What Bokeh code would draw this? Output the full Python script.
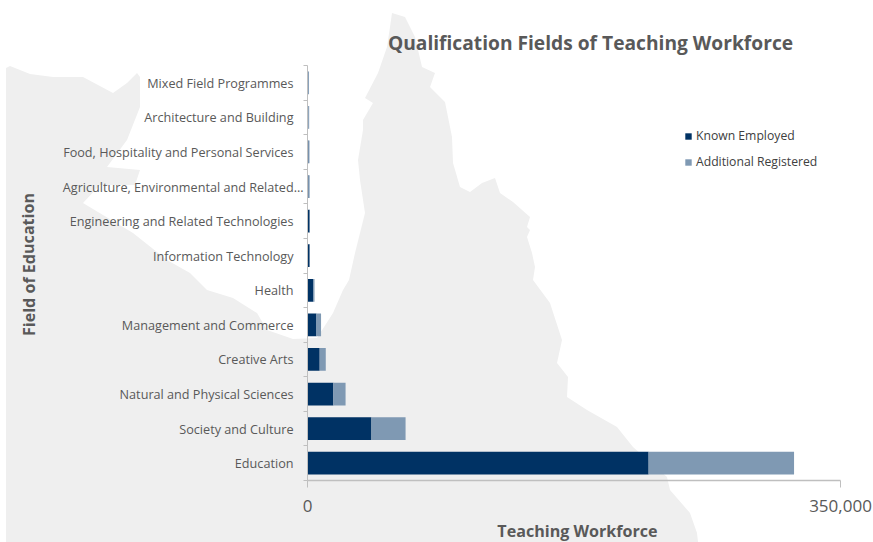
from urllib.parse import quote
from bokeh.plotting import figure
from bokeh.models import (Range1d, FixedTicker, Label, Legend, LegendItem, LinearAxis)
from bokeh.embed import file_html
from bokeh.resources import INLINE

categories = ["Education", "Society and Culture", "Natural and Physical Sciences", "Creative Arts",
              "Management and Commerce", "Health", "Information Technology",
              "Engineering and Related Technologies", "Agriculture, Environmental and Related…",
              "Food, Hospitality and Personal Services", "Architecture and Building", "Mixed Field Programmes"]
known_employed = [224000, 42000, 17000, 8000, 5900, 3900, 1400, 1400, 700, 700, 500, 400]
additional_registered = [95500, 22400, 8000, 4000, 3000, 700, 200, 200, 700, 600, 600, 600]
x_ticks = [0, 350000]
x_tick_labels = ["0", "350,000"]

# decorative backdrop: silhouette of the Queensland coast, in page pixels
map_x = [6, 10, 30, 53, 83, 113, 127, 137, 140, 140, 127, 107, 140, 135, 100, 83, 133, 167, 190, 207, 233, 257, 267,
         293, 317, 333, 343, 349, 355, 365, 360, 358, 363, 363, 373, 365, 378, 387, 390, 392, 405, 415, 422, 435, 430,
         445, 448, 452, 453, 460, 470, 482, 495, 500, 513, 530, 527, 530, 527, 532, 535, 533, 550, 562, 557, 568, 567,
         587, 617, 633, 667, 670, 690, 697, 698, 6]
map_y = [68, 66, 74, 77, 77, 93, 83, 73, 77, 107, 140, 167, 170, 185, 185, 203, 233, 260, 273, 290, 298, 313, 330,
         339, 338, 313, 290, 280, 253, 213, 180, 160, 130, 120, 103, 98, 73, 47, 27, 13, 17, 37, 67, 73, 87,
         102, 117, 137, 163, 187, 192, 183, 178, 193, 202, 217, 227, 230, 237, 253, 267, 280, 303, 340, 363, 377, 397,
         410, 427, 447, 477, 490, 513, 533, 542, 542]

W, H = 873, 542
DARK, LIGHT = "#003264", "#7F99B3"
GREY_TEXT = "#595959"
FONT = "Open Sans"

points = " ".join(f"{x},{y}" for x, y in zip(map_x, map_y))
backdrop = (f'<svg xmlns="http://www.w3.org/2000/svg" width="{W}" height="{H}">'
            f'<polygon points="{points}" fill="#EFEFEF"/></svg>')

n = len(categories)
p = figure(width=W, height=H, output_backend="svg", toolbar_location=None,
           x_range=Range1d(0, 350000), y_range=Range1d(0, n),
           x_axis_type=None, y_axis_type=None,
           min_border_left=307, min_border_right=33, min_border_top=65, min_border_bottom=62,
           styles={"background-image": f'url("data:image/svg+xml,{quote(backdrop)}")',
                   "background-repeat": "no-repeat", "background-color": "white"})
p.outline_line_color = None
p.background_fill_alpha = 0
p.border_fill_alpha = 0
p.xgrid.visible = False
p.ygrid.visible = False

ys = [i + 0.5 for i in range(n)]
rights2 = [a + b for a, b in zip(known_employed, additional_registered)]
r1 = p.hbar(y=ys, left=[0] * n, right=known_employed, height=0.66, fill_color=DARK, line_color=None)
r2 = p.hbar(y=ys, left=known_employed, right=rights2, height=0.66, fill_color=LIGHT, line_color=None)

AX = "#BFBFBF"
yax = LinearAxis(ticker=FixedTicker(ticks=ys, minor_ticks=list(range(n + 1))))
yax.major_label_overrides = {y: ("" if c.endswith("…") else c) for y, c in zip(ys, categories)}
yax.major_tick_line_color = None
yax.minor_tick_line_color = AX
yax.minor_tick_out = 4
yax.minor_tick_in = 0
yax.axis_line_color = AX
yax.major_label_standoff = 8
yax.major_label_text_font = FONT
yax.major_label_text_font_size = "12.65px"
yax.major_label_text_color = GREY_TEXT
p.add_layout(yax, "left")

xax = LinearAxis(ticker=FixedTicker(ticks=x_ticks))
xax.major_label_overrides = dict(zip(x_ticks, x_tick_labels))
xax.major_tick_line_color = AX
xax.major_tick_out = 7
xax.major_tick_in = 0
xax.minor_tick_line_color = None
xax.axis_line_color = AX
xax.axis_line_width = 1.5
xax.major_label_standoff = 12
xax.major_label_text_font = FONT
xax.major_label_text_font_size = "17px"
xax.major_label_text_color = GREY_TEXT
p.add_layout(xax, "below")

def label(side, text, x, y, size, color=GREY_TEXT, bold=False, align="center", angle=0):
    p.add_layout(Label(x=x, y=y, x_units="canvas", y_units="canvas", text=text, text_font=FONT,
                       text_font_size=size, text_color=color, text_font_style="bold" if bold else "normal",
                       text_align=align, text_baseline="middle", angle=angle), side)

label("above", "Qualification Fields of Teaching Workforce", 590, 42, "19.2px", bold=True)
label("below", "Teaching Workforce", 577, 530, "16.1px", bold=True)
label("left", "Field of Education", 28, 264, "16.1px", bold=True, angle=1.5708)
label("above", categories[8], 303, 186, "12.65px", align="right")

legend = Legend(items=[LegendItem(label="Known Employed", renderers=[r1]),
                       LegendItem(label="Additional Registered", renderers=[r2])],
                location=(685 - 307 - 1, 480 - 170), orientation="vertical",
                glyph_width=8, glyph_height=8, label_height=14, spacing=9, padding=0, margin=0,
                label_standoff=4, border_line_color=None, background_fill_alpha=0,
                label_text_font=FONT, label_text_font_size="12.2px", label_text_color="#404040")
p.add_layout(legend, "center")

open("out.html", "w").write(file_html(p, INLINE))
